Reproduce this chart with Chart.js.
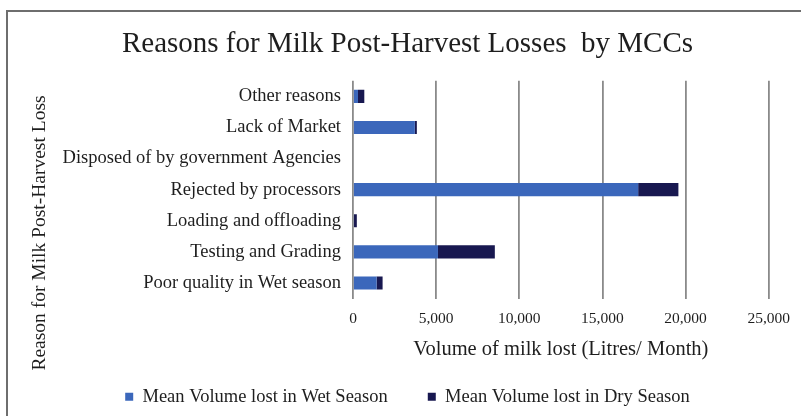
<!DOCTYPE html>
<html>
<head>
<meta charset="utf-8">
<script src="https://cdn.jsdelivr.net/npm/chart.js@4"></script>
<style>
  html, body { margin: 0; padding: 0; background: #fff; }
  #wrap { position: relative; width: 801px; height: 416px; overflow: hidden; }
  #frame { position: absolute; left: 6px; top: 10px; width: 900px; height: 500px;
           border-left: 2px solid #6e6e6e; border-top: 2px solid #6e6e6e; box-sizing: border-box; }
  canvas { position: absolute; left: 0; top: 0; }
</style>
</head>
<body>
<div id="wrap">
  <div id="frame"></div>
  <canvas id="c" width="801" height="416"></canvas>
</div>
<script>
// Loss reasons reported by milk collection centres
const categories = [
  'Other reasons',
  'Lack of Market',
  'Disposed of by government Agencies',
  'Rejected by processors',
  'Loading and offloading',
  'Testing and Grading',
  'Poor quality in Wet season'
];
// Mean volume lost (litres / month)
const wetSeason = [300, 3720, 0, 17150, 60, 5110, 1420];
const drySeason = [380, 120, 0, 2420, 170, 3420, 360];
const xTicks = [0, 5000, 10000, 15000, 20000, 25000];
const yAxisTitle = 'Reason for Milk Post-Harvest Loss';

const serif = "'Liberation Serif', 'DejaVu Serif', serif";
const textColor = '#1e1e1e';
const gridColor = '#8a8a8a';

// Vertical axis title, set along the left edge of the frame
const yTitlePlugin = {
  id: 'yTitle',
  afterDraw(chart) {
    const ctx = chart.ctx;
    ctx.save();
    ctx.translate(40, 233);
    ctx.rotate(-Math.PI / 2);
    ctx.font = '19.5px ' + serif;
    ctx.fillStyle = textColor;
    ctx.textAlign = 'center';
    ctx.textBaseline = 'middle';
    ctx.fillText(yAxisTitle, 0, 0);
    ctx.restore();
  }
};

new Chart(document.getElementById('c'), {
  type: 'bar',
  data: {
    labels: categories,
    datasets: [
      { label: 'Mean Volume lost in Wet Season', data: wetSeason, backgroundColor: '#3b67bb' },
      { label: 'Mean Volume lost in Dry Season', data: drySeason, backgroundColor: '#181850' }
    ]
  },
  options: {
    indexAxis: 'y',
    responsive: false,
    animation: false,
    layout: { padding: { left: 46, right: 32, top: 0, bottom: 0 } },
    datasets: { bar: { categoryPercentage: 1, barPercentage: 0.42 } },
    plugins: {
      title: {
        display: true,
        text: 'Reasons for Milk Post-Harvest Losses  by MCCs',
        color: textColor,
        font: { family: serif, size: 29, weight: 'normal' },
        padding: { top: 27, bottom: 19 }
      },
      legend: {
        position: 'bottom',
        labels: {
          color: textColor,
          font: { family: serif, size: 18.5 },
          boxWidth: 8, boxHeight: 8,
          padding: 40
        }
      },
      tooltip: { enabled: false }
    },
    scales: {
      x: {
        stacked: true,
        min: 0, max: 25000,
        afterBuildTicks: (s) => { s.ticks = xTicks.map(v => ({ value: v })); },
        afterFit: (s) => { s.height = 49; },
        ticks: {
          color: textColor,
          font: { family: serif, size: 15.5 },
          padding: 11,
          callback: (v) => Number(v).toLocaleString('en-US')
        },
        grid: { color: gridColor, lineWidth: 1.8, drawTicks: false },
        border: { display: false },
        title: {
          display: true,
          text: 'Volume of milk lost (Litres/ Month)',
          color: textColor,
          font: { family: serif, size: 20.5 },
          padding: { top: 0, bottom: -14 }
        }
      },
      y: {
        stacked: true,
        afterFit: (s) => { s.width = 307; },
        ticks: {
          color: textColor,
          font: { family: serif, size: 18.5 },
          padding: 12
        },
        grid: { display: false, drawTicks: false },
        border: { display: false }
      }
    }
  },
  plugins: [yTitlePlugin]
});
</script>
</body>
</html>
